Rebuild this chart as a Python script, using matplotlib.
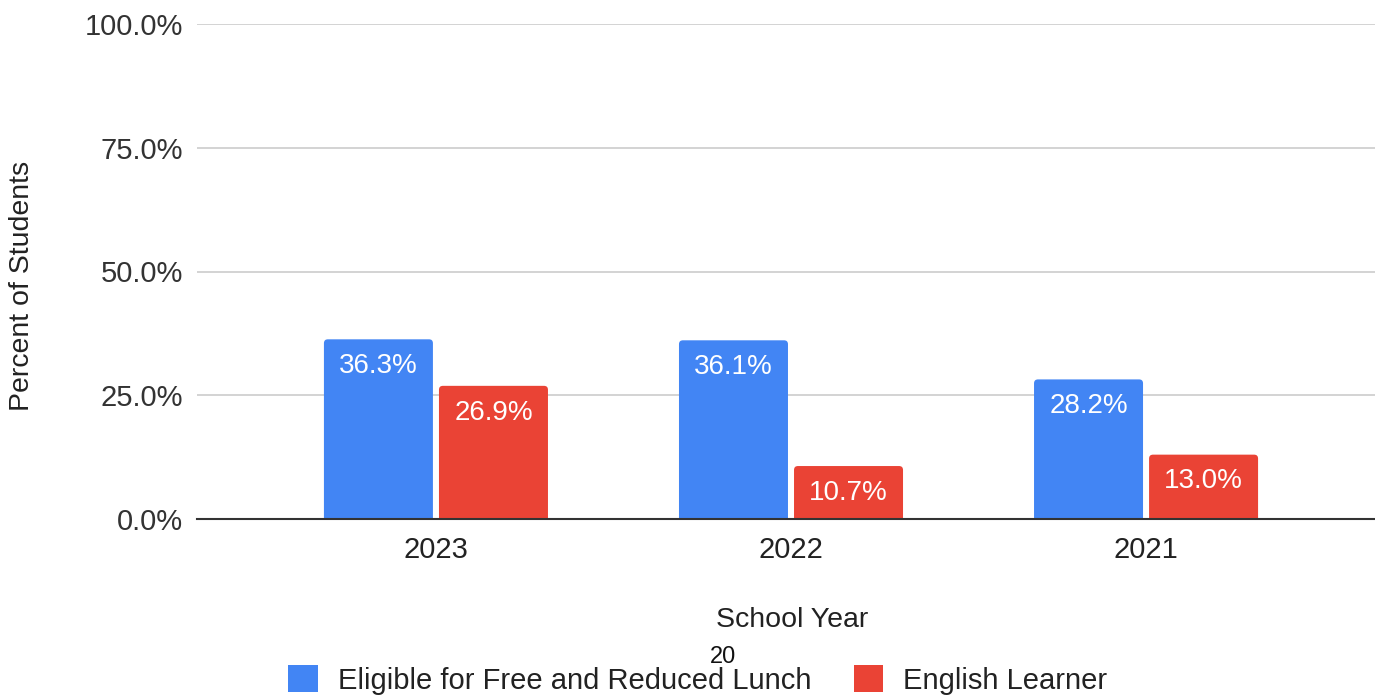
import matplotlib
matplotlib.use("Agg")
import matplotlib.pyplot as plt
from matplotlib.patches import FancyBboxPatch
import numpy as np

plt.rcParams['font.family'] = ['Liberation Sans', 'DejaVu Sans']

years = ["2023", "2022", "2021"]
lunch = [36.3, 36.1, 28.2]
learner = [26.9, 10.7, 13.0]
series_names = ["Eligible for Free and Reduced Lunch", "English Learner"]
colors = ["#4285F4", "#EA4335"]
yticks = [0, 25, 50, 75, 100]

fig = plt.figure(figsize=(13.75, 6.95), dpi=100)
ax = fig.add_axes([197 / 1375, 1 - 519 / 695, 1188 / 1375, 495 / 695])

x = np.arange(len(years))
width = 0.307
offset = 0.162
ax.set_xlim(-0.673, 2.673)
ax.set_ylim(0, 100)

# radius of the rounded top corners, in x data units, and the aspect of y/x units
rad = 0.011
aspect = (100 / 495) / (3.346 / 1188)

for vals, off, col, name in zip([lunch, learner], [-offset, offset], colors, series_names):
    for xi, v in zip(x, vals):
        p = FancyBboxPatch((xi + off - width / 2, -2), width, v + 2,
                           boxstyle=f"round,pad=0,rounding_size={rad}",
                           mutation_aspect=aspect, facecolor=col, edgecolor="none",
                           zorder=3)
        ax.add_patch(p)
        ax.text(xi + off, v - 5.4, f"{v:.1f}%", ha="center", va="center",
                color="white", fontsize=20, zorder=4)
    ax.bar([0], [0], color=col, label=name)

ax.set_yticks(yticks)
ax.set_yticklabels([f"{t:.1f}%" for t in yticks], fontsize=21, color="#333333")
ax.set_xticks(x)
ax.set_xticklabels(years, fontsize=21, color="#222222")
ax.tick_params(axis="both", length=0)
ax.tick_params(axis="y", pad=10)
ax.tick_params(axis="x", pad=12)
ax.grid(axis="y", color="#cccccc", linewidth=1.2, zorder=0)
ax.set_axisbelow(True)
for s in ["top", "right", "left"]:
    ax.spines[s].set_visible(False)
ax.spines["bottom"].set_color("#333333")
ax.spines["bottom"].set_linewidth(1.5)
ax.spines["bottom"].set_zorder(5)

fig.text(22 / 1375, 1 - 286 / 695, "Percent of Students", rotation=90,
         ha="center", va="center", fontsize=20.5, color="#222222")
fig.text(792 / 1375, 1 - 620 / 695, "School Year", ha="center", va="center",
         fontsize=20.5, color="#222222")
fig.text(723 / 1375, 1 - 657 / 695, "20", ha="center", va="center",
         fontsize=17, color="#111111")

handles, labels = ax.get_legend_handles_labels()
fig.legend(handles, labels, loc="center", bbox_to_anchor=(698 / 1375, 1 - 680 / 695),
           ncol=2, frameon=False, fontsize=21, handlelength=1.0, handleheight=1.0,
           handletextpad=0.7, columnspacing=1.45, labelcolor="#222222",
           borderpad=0, borderaxespad=0)

fig.savefig("out.png", dpi=100)
